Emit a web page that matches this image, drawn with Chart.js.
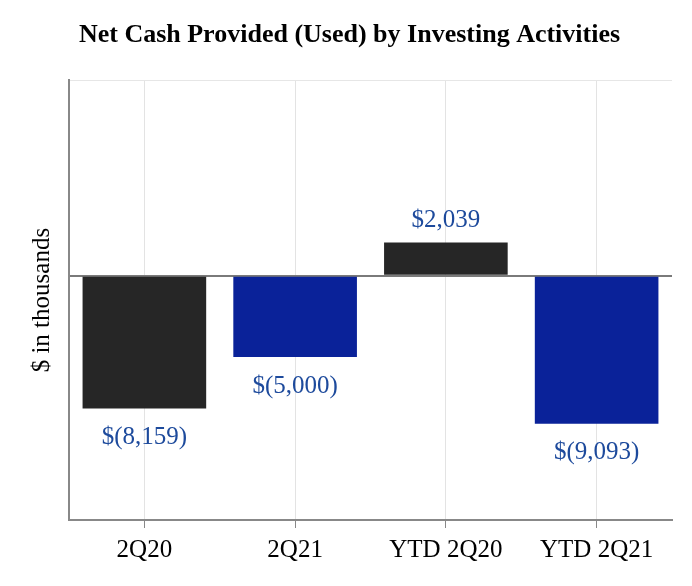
<!DOCTYPE html>
<html>
<head>
<meta charset="utf-8">
<script src="https://cdn.jsdelivr.net/npm/chart.js@4"></script>
<style>
  html, body { margin: 0; padding: 0; background: #fff; }
  #wrap { width: 692px; height: 586px; }
</style>
</head>
<body>
<div id="wrap"><canvas id="cashChart" width="692" height="586"></canvas></div>
<script>
const categories = ["2Q20", "2Q21", "YTD 2Q20", "YTD 2Q21"];
const values = [-8159, -5000, 2039, -9093];
const valueLabels = ["$(8,159)", "$(5,000)", "$2,039", "$(9,093)"];
const barColors = ["#262626", "#0a2299", "#262626", "#0a2299"];
const yTicks = [-15000, 0, 12000];

const serif = "'Liberation Serif', 'Times New Roman', serif";

// draws the value text above / below each bar
const barLabels = {
    id: "barLabels",
    afterDatasetsDraw(chart) {
        const ctx = chart.ctx;
        const meta = chart.getDatasetMeta(0);
        ctx.save();
        ctx.font = "25px " + serif;
        ctx.fillStyle = "#1d4a9c";
        ctx.textAlign = "center";
        ctx.textBaseline = "middle";
        meta.data.forEach((bar, i) => {
            const y = values[i] >= 0 ? bar.y - 22 : bar.y + 29;
            ctx.fillText(valueLabels[i], bar.x, y);
        });
        ctx.restore();
    }
};

const ctx = document.getElementById("cashChart");

new Chart(ctx, {
    type: "bar",
    data: {
        labels: categories,
        datasets: [
            {
                data: values,
                backgroundColor: barColors,
                borderWidth: 0,
                barPercentage: 0.82,
                categoryPercentage: 1.0
            },
        ],
    },
    options: {
        responsive: false,
        animation: false,
        layout: {
            padding: { left: 27, right: 20, top: 0, bottom: 14 }
        },
        scales: {
            x: {
                grid: {
                    offset: false,
                    color: "#e3e3e3",
                    tickColor: "#888",
                    tickLength: 8
                },
                border: { color: "#888", width: 2 },
                ticks: {
                    color: "#000",
                    font: { family: serif, size: 25 },
                    padding: 7
                }
            },
            y: {
                min: -15000,
                max: 12000,
                afterBuildTicks: (axis) => {
                    axis.ticks = yTicks.map(v => ({ value: v }));
                },
                grid: {
                    drawTicks: false,
                    color: (c) => {
                        if (c.tick && c.tick.value === 0) return "#7a7a7a";
                        if (c.tick && c.tick.value === 12000) return "#e6e6e6";
                        return "rgba(0,0,0,0)";
                    },
                    lineWidth: (c) => (c.tick && c.tick.value === 0 ? 2 : 1)
                },
                border: { color: "#888", width: 2 },
                ticks: { display: false },
                title: {
                    display: true,
                    text: "$ in thousands",
                    color: "#000",
                    font: { family: serif, size: 25 },
                    padding: { top: 0, bottom: 12 }
                }
            },
        },
        plugins: {
            title: {
                display: true,
                text: "Net Cash Provided (Used) by Investing Activities",
                color: "#000",
                font: { family: serif, size: 26, weight: "bold" },
                padding: { top: 20, bottom: 29 }
            },
            legend: {
                display: false,
            },
            tooltip: { enabled: false }
        },
    },
    plugins: [barLabels]
});
</script>
</body>
</html>
